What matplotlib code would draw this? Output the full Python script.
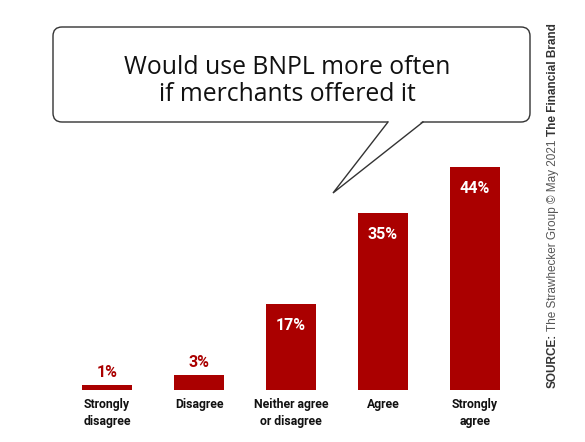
import matplotlib
matplotlib.use("Agg")
import matplotlib.pyplot as plt
from matplotlib.patches import FancyBboxPatch, Polygon

# data
categories = ["Strongly\ndisagree", "Disagree", "Neither agree\nor disagree", "Agree", "Strongly\nagree"]
values = [1, 3, 17, 35, 44]
title = "Would use BNPL more often\nif merchants offered it"

RED = "#aa0000"
W, H = 585, 442

fig = plt.figure(figsize=(W / 100, H / 100), dpi=100)
fig.patch.set_facecolor("white")

#%% bar axes, placed in pixel terms
ax = fig.add_axes([61 / W, 52 / H, 460 / W, 253.5 / H])
ax.bar(range(len(values)), values, width=0.54, color=RED)
ax.set_xlim(-0.5, 4.5)
ax.set_ylim(0, 50)
ax.axis("off")

for i, v in enumerate(values):
    if v > 10:
        ax.text(i, v - 4.3, f"{v}%", ha="center", va="center", color="white",
                fontsize=11.5, fontweight="bold", family="Roboto")
    else:
        ax.text(i, v + 2.4, f"{v}%", ha="center", va="center", color=RED,
                fontsize=11.5, fontweight="bold", family="Roboto")
    ax.text(i, -1.6, categories[i], ha="center", va="top", color="#111111",
            fontsize=8.8, fontweight="bold", family="Roboto", linespacing=1.35,
            clip_on=False)

#%% speech bubble overlay in pixel coords
ov = fig.add_axes([0, 0, 1, 1], facecolor="none")
ov.set_xlim(0, W)
ov.set_ylim(H, 0)
ov.axis("off")

box = FancyBboxPatch((53, 27), 477, 95, boxstyle="round,pad=0,rounding_size=9",
                     fc="white", ec="#333333", lw=1.0)
ov.add_patch(box)
tail = [(388, 122), (333, 193), (423, 122)]
ov.add_patch(Polygon([(388.6, 121), (333, 193), (422.4, 121)], closed=True,
                     fc="white", ec="none", zorder=3))
ov.plot([tail[0][0], tail[1][0], tail[2][0]], [tail[0][1], tail[1][1], tail[2][1]],
        color="#333333", lw=1.0, zorder=4, solid_joinstyle="miter")
ov.text(287, 81, title, ha="center", va="center", fontsize=17.8, family="Open Sans",
        color="#111111", linespacing=1.15, zorder=5)

#%% vertical source note
t1 = fig.text(553 / W, (H - 388) / H, "SOURCE:", rotation=90, ha="center", va="bottom",
              fontsize=8.5, fontweight="bold", color="#333333", family="Liberation Sans")
t2 = ov.annotate(" The Strawhecker Group \u00a9 May 2021 ", xy=(0.5, 1.0), xycoords=t1,
                 rotation=90, ha="center", va="bottom", fontsize=8.5, color="#555555",
                 family="Liberation Sans")
t3 = ov.annotate("The Financial Brand", xy=(0.5, 1.0), xycoords=t2,
                 rotation=90, ha="center", va="bottom", fontsize=8.5, fontweight="bold",
                 color="#333333", family="Liberation Sans")

fig.savefig("out.png", dpi=100)
